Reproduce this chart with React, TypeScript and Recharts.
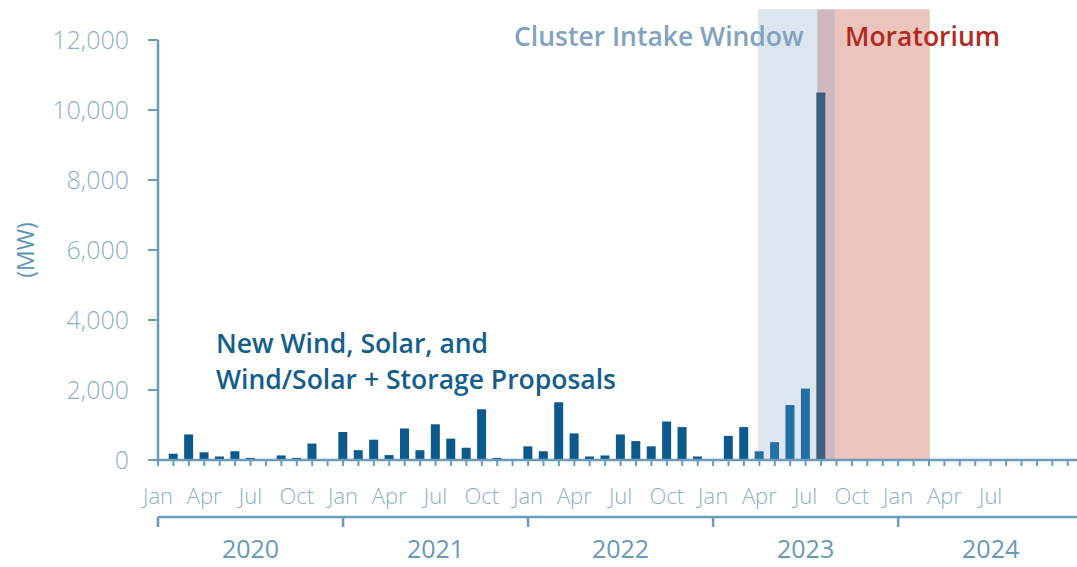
import { ComposedChart, Bar, Cell, XAxis, YAxis, ReferenceArea } from "recharts"

const MONTHS = ["Jan", "Feb", "Mar", "Apr", "May", "Jun", "Jul", "Aug", "Sep", "Oct", "Nov", "Dec"]
const YEARS = [2020, 2021, 2022, 2023, 2024]
const Y_TICKS = [0, 2000, 4000, 6000, 8000, 10000, 12000]

// MW of new wind, solar and wind/solar + storage proposals, Jan 2020 .. Aug 2023
const PROPOSALS_2020 = [0, 180, 730, 220, 100, 250, 60, 0, 130, 60, 470, 0]
const PROPOSALS_2021 = [800, 280, 580, 140, 900, 280, 1020, 610, 350, 1450, 60, 0]
const PROPOSALS_2022 = [390, 250, 1650, 760, 100, 130, 730, 540, 390, 1100, 940, 100]
const PROPOSALS_2023 = [0, 690, 940, 250, 510, 1570, 2040, 10500]

// shaded windows, in months since Jan 2020
const INTAKE_WINDOW = [38.9, 43.9]
const MORATORIUM = [42.75, 50.05]

const AXIS = "#6b9bbd"
const TICK_TEXT = "#8db0c9"
const FONT = "'Open Sans', sans-serif"

const values = [...PROPOSALS_2020, ...PROPOSALS_2021, ...PROPOSALS_2022, ...PROPOSALS_2023]
const monthCount = YEARS.length * 12
const data = Array.from({ length: monthCount }, (_, i) => ({
  m: i,
  mw: i < values.length ? values[i] : null,
}))
const monthTicks = data.map((d) => d.m)
const yearTicks = Array.from({ length: YEARS.length * 2 }, (_, i) => i * 6)

const inRange = (v: number, r: number[]) => v >= r[0] && v <= r[1]

function barColor(m: number) {
  const a = inRange(m, INTAKE_WINDOW)
  const b = inRange(m, MORATORIUM)
  if (a && b) return "#3e5e80"
  if (a) return "#2570a3"
  return "#0c5a8c"
}

function YearTick(props: any) {
  const { x, y, payload } = props
  const v = payload.value as number
  if (v % 12 === 0) {
    return <line x1={x} x2={x} y1={y} y2={y + 10} stroke={AXIS} strokeWidth={2.5} />
  }
  const year = YEARS[Math.floor(v / 12)]
  return (
    <text x={x} y={y + 41} textAnchor="middle" fill="#6898ba" fontSize={25} fontFamily={FONT}>
      {year}
    </text>
  )
}

export default function App() {
  return (
    <div style={{ position: "absolute", left: 0, top: 0, width: 1077, height: 567, background: "#fff" }}>
      <ComposedChart
        width={1077}
        height={567}
        data={data}
        margin={{ top: 40, right: 0, bottom: 0, left: 0 }}
      >
        <ReferenceArea
          x1={INTAKE_WINDOW[0]}
          x2={MORATORIUM[0]}
          y1={0}
          y2={12880}
          fill="#dce6ef"
          fillOpacity={1}
          ifOverflow="visible"
        />
        <ReferenceArea
          x1={MORATORIUM[0]}
          x2={INTAKE_WINDOW[1]}
          y1={0}
          y2={12880}
          fill="#cfb8bf"
          fillOpacity={1}
          ifOverflow="visible"
        />
        <ReferenceArea
          x1={INTAKE_WINDOW[1]}
          x2={MORATORIUM[1]}
          y1={0}
          y2={12880}
          fill="#ebc5bd"
          fillOpacity={1}
          ifOverflow="visible"
        />
        <XAxis
          dataKey="m"
          type="number"
          domain={[0, 59.6]}
          ticks={monthTicks}
          interval={0}
          allowDataOverflow
          height={57}
          stroke={AXIS}
          strokeWidth={2.5}
          tickSize={6}
          tickMargin={22}
          tickLine={{ stroke: AXIS, strokeWidth: 2 }}
          tick={{ fill: TICK_TEXT, fontSize: 22, fontFamily: FONT, fontWeight: 300 }}
          tickFormatter={(v: number) => (v % 3 === 0 && v <= 54 ? MONTHS[v % 12] : "")}
        />
        <XAxis
          xAxisId="year"
          dataKey="m"
          type="number"
          domain={[0, 59.6]}
          ticks={yearTicks}
          interval={0}
          allowDataOverflow
          height={50}
          stroke={AXIS}
          strokeWidth={2.5}
          tickLine={false}
          tickSize={0}
          tickMargin={0}
          tick={<YearTick />}
        />
        <YAxis
          domain={[0, 12000]}
          ticks={Y_TICKS}
          interval={0}
          width={158}
          stroke={AXIS}
          strokeWidth={2.5}
          tickSize={10}
          tickMargin={19}
          tickLine={{ stroke: AXIS, strokeWidth: 2 }}
          tick={{ fill: TICK_TEXT, fontSize: 25, fontFamily: FONT, fontWeight: 300 }}
          tickFormatter={(v: number) => v.toLocaleString("en-US")}
        />
        <Bar dataKey="mw" barSize={9} isAnimationActive={false}>
          {data.map((d) => (
            <Cell key={d.m} fill={barColor(d.m)} />
          ))}
        </Bar>
      </ComposedChart>
      <svg
        width={1077}
        height={567}
        style={{ position: "absolute", left: 0, top: 0, pointerEvents: "none" }}
        fontFamily={FONT}
      >
        <text x={25} y={250} transform="rotate(-90 25 250)" textAnchor="middle" dominantBaseline="central" fill="#5e92b8" fontSize={23}>
          (MW)
        </text>
        <text x={514} y={46} fill="#82a2bf" fontSize={26.5} fontWeight={600}>
          Cluster Intake Window
        </text>
        <text x={845} y={46} fill="#b02a1e" fontSize={26.5} fontWeight={600}>
          Moratorium
        </text>
        <text x={216} y={353} fill="#145e8c" fontSize={26.5} fontWeight={600}>
          New Wind, Solar, and
        </text>
        <text x={216} y={389} fill="#145e8c" fontSize={26.5} fontWeight={600}>
          Wind/Solar + Storage Proposals
        </text>
      </svg>
    </div>
  )
}
